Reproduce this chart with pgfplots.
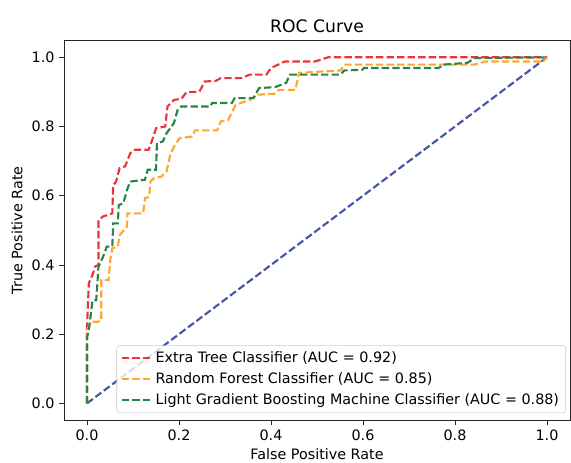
\documentclass[border=0pt]{standalone}
\usepackage{fontspec}
\setmainfont{DejaVu Sans}
\usepackage{pgfplots}
\pgfplotsset{compat=1.18}
\definecolor{cred}{HTML}{EC3337}
\definecolor{corange}{HTML}{FFA630}
\definecolor{cgreen}{HTML}{2A8445}
\definecolor{cblue}{HTML}{4355A8}
\begin{document}
\begin{tikzpicture}
\begin{axis}[
  scale only axis,
  width=379.5pt, height=285.5pt,
  xmin=-0.05, xmax=1.05, ymin=-0.05, ymax=1.05,
  xtick={0,0.2,0.4,0.6,0.8,1.0},
  ytick={0,0.2,0.4,0.6,0.8,1.0},
  xticklabels={0.0,0.2,0.4,0.6,0.8,1.0},
  yticklabels={0.0,0.2,0.4,0.6,0.8,1.0},
  tick align=outside,
  tick pos=left,
  major tick length=3.6pt,
  tick style={black!85, line width=0.6pt},
  axis line style={black!85, line width=0.75pt},
  ticklabel style={font=\fontsize{10.75}{12.5}\selectfont},
  /pgf/number format/assume math mode=true,
  xlabel={False Positive Rate},
  ylabel={True Positive Rate},
  label style={font=\fontsize{10.75}{12.5}\selectfont},
  xlabel style={yshift=1pt},
  title={ROC Curve},
  title style={font=\fontsize{12.9}{15}\selectfont, yshift=-4pt},
  legend cell align=left,
  legend style={at={(1,0)}, anchor=south east, xshift=-3pt, yshift=5.7pt,
    font=\fontsize{10.75}{12.5}\selectfont, draw=black!20, rounded corners=2pt,
    fill=white, fill opacity=0.8, text opacity=1, row sep=2.2pt,
    inner xsep=3pt, inner ysep=2.5pt},
  legend image code/.code={\draw[#1] (0pt,0pt) -- (22.5pt,0pt);},
  every axis plot/.append style={line width=1.6pt, dash pattern=on 5.5pt off 2.4pt},
]
\addplot[cblue, forget plot] coordinates {(0,0) (1,1)};
\addplot[cred] coordinates {(0,0) (0,0.221) (0.004,0.347) (0.013,0.375) (0.017,0.395) (0.025,0.40) (0.025,0.53) (0.035,0.54) (0.055,0.549) (0.057,0.631) (0.063,0.64) (0.071,0.68) (0.083,0.685) (0.094,0.723) (0.104,0.733) (0.134,0.733) (0.142,0.762) (0.150,0.795) (0.170,0.80) (0.175,0.858) (0.189,0.877) (0.205,0.88) (0.217,0.90) (0.244,0.90) (0.256,0.93) (0.28,0.932) (0.291,0.94) (0.335,0.94) (0.354,0.95) (0.39,0.95) (0.40,0.969) (0.43,0.988) (0.496,0.988) (0.524,1) (1,1)};
\addlegendentry{Extra Tree Classifier (AUC = 0.92)}
\addplot[corange] coordinates {(0,0) (0,0.211) (0.008,0.236) (0.024,0.236) (0.031,0.24) (0.031,0.356) (0.047,0.356) (0.051,0.419) (0.055,0.448) (0.067,0.453) (0.071,0.486) (0.087,0.511) (0.088,0.549) (0.122,0.549) (0.126,0.593) (0.135,0.597) (0.138,0.641) (0.146,0.651) (0.161,0.655) (0.173,0.67) (0.181,0.718) (0.189,0.742) (0.201,0.766) (0.228,0.771) (0.235,0.789) (0.283,0.789) (0.291,0.815) (0.307,0.819) (0.323,0.863) (0.354,0.877) (0.37,0.892) (0.409,0.895) (0.417,0.906) (0.453,0.906) (0.461,0.955) (0.551,0.962) (0.559,0.979) (0.843,0.979) (0.866,0.988) (0.992,0.988) (1,1)};
\addlegendentry{Random Forest Classifier (AUC = 0.85)}
\addplot[cgreen] coordinates {(0,0) (0,0.192) (0.004,0.211) (0.012,0.298) (0.02,0.298) (0.025,0.395) (0.035,0.424) (0.043,0.453) (0.055,0.453) (0.057,0.52) (0.067,0.52) (0.069,0.573) (0.079,0.578) (0.087,0.617) (0.094,0.641) (0.126,0.646) (0.132,0.675) (0.15,0.675) (0.152,0.752) (0.165,0.757) (0.173,0.781) (0.181,0.795) (0.189,0.81) (0.197,0.848) (0.205,0.858) (0.268,0.858) (0.272,0.868) (0.315,0.868) (0.321,0.882) (0.362,0.882) (0.374,0.911) (0.409,0.914) (0.433,0.926) (0.441,0.95) (0.551,0.95) (0.559,0.962) (0.598,0.964) (0.602,0.969) (0.764,0.969) (0.776,0.979) (0.827,0.984) (0.843,0.998) (1,1)};
\addlegendentry{Light Gradient Boosting Machine Classifier (AUC = 0.88)}
\end{axis}
\pgfresetboundingbox
\path[use as bounding box] (-48pt,-31.05pt) rectangle (380.25pt,315.5pt);
\end{tikzpicture}
\end{document}
